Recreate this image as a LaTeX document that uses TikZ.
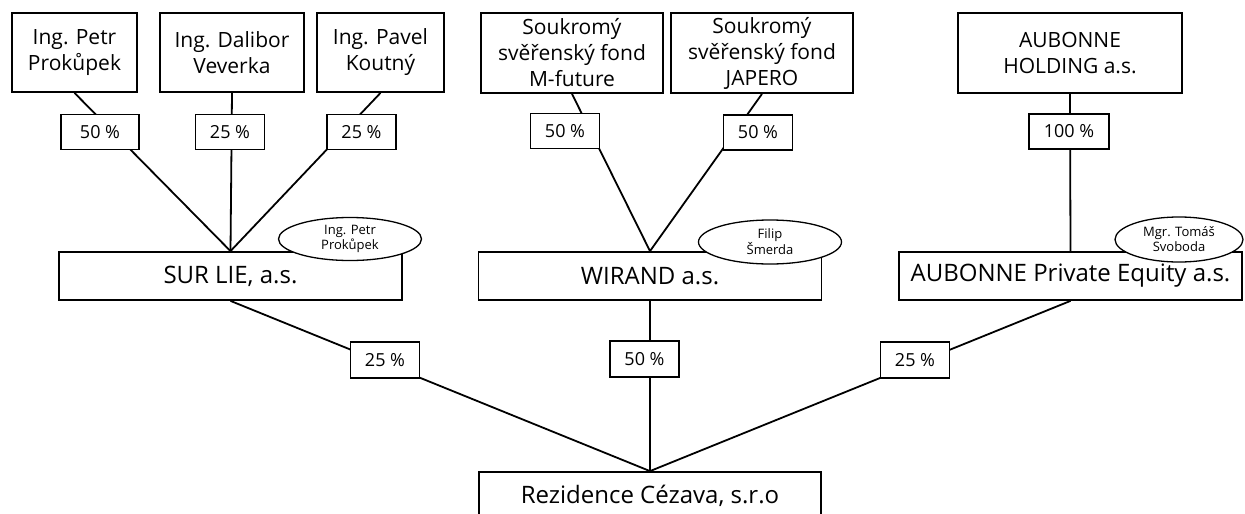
\documentclass[tikz,border=0pt]{standalone}
\usepackage{fontspec}
\setmainfont{Open Sans}
\usetikzlibrary{shapes.geometric}

\begin{document}
\begin{tikzpicture}[x=1pt,y=-1pt,
	owner/.style={shape=rectangle,draw=black,line width=1.8pt,fill=white,align=center,inner sep=0pt,minimum height=79pt,font=\fontsize{21}{26}\selectfont},
	firm/.style={shape=rectangle,draw=black,line width=1.8pt,fill=white,inner sep=0pt,minimum width=343pt,minimum height=48pt,font=\fontsize{24}{28}\selectfont},
	share/.style={shape=rectangle,draw=black,line width=1.3pt,fill=white,inner sep=0pt,minimum width=69pt,minimum height=35pt,font=\fontsize{18}{22}\selectfont},
	boss/.style={shape=ellipse,draw=black,line width=1.3pt,fill=white,inner sep=0pt,align=center,font=\fontsize{13}{15}\selectfont},
	link/.style={draw=black,line width=1.8pt}]
	\useasboundingbox (0,0) rectangle (1245,514);
	\clip (0,0) rectangle (1245,514);
	% owners
	\node[owner,minimum width=125pt] (petr)    at (74.5,52.5) {Ing. Petr\\Prokůpek};
	\node[owner,minimum width=144pt] (dalibor) at (232,52.5)  {Ing. Dalibor\\Veverka};
	\node[owner,minimum width=127pt] (pavel)   at (380.5,52.5) {Ing. Pavel\\Koutný};
	\node[owner,minimum width=182pt,minimum height=80pt] (mfuture) at (572,53) {Soukromý\\svěřenský fond\\M-future};
	\node[owner,minimum width=182pt,minimum height=80pt] (japero)  at (762,53) {Soukromý\\svěřenský fond\\JAPERO};
	\node[owner,minimum width=224pt,minimum height=80pt] (aubhold) at (1070,53) {AUBONNE\\HOLDING a.s.};
	% companies
	\node[firm] (surlie) at (230.5,276) {SUR LIE, a.s.};
	\node[firm] (wirand) at (650,276)   {WIRAND a.s.};
	\node[firm] (aubpe)  at (1070.5,276) {AUBONNE Private Equity a.s.};
	\node[firm,minimum width=342pt] (rezidence) at (650,496) {Rezidence Cézava, s.r.o};
	% lines
	\draw[link] (petr.south) -- (surlie.north);
	\draw[link] (dalibor.south) -- (surlie.north);
	\draw[link] (pavel.south) -- (surlie.north);
	\draw[link] (mfuture.south) -- (wirand.north);
	\draw[link] (japero.south) -- (wirand.north);
	\draw[link] (aubhold.south) -- (aubpe.north);
	\draw[link] (surlie.south) -- (rezidence.north);
	\draw[link] (wirand.south) -- (rezidence.north);
	\draw[link] (aubpe.south) -- (rezidence.north);
	% shares
	\node[share,minimum width=78pt] (sPetr) at (100,132)  {50 \%};
	\node[share] (sDalibor) at (230,132)   {25 \%};
	\node[share] (sPavel)   at (361.5,132) {25 \%};
	\node[share] (sMfuture) at (565,131)   {50 \%};
	\node[share] (sJapero)  at (758,132.5) {50 \%};
	\node[share,minimum width=80pt] (sAubhold) at (1069,131.5) {100 \%};
	\node[share,minimum height=36pt] (sSurlie) at (385,360)   {25 \%};
	\node[share,minimum height=36pt] (sWirand) at (644.5,359) {50 \%};
	\node[share,minimum height=36pt] (sAubpe)  at (915,360)   {25 \%};
	% statutory persons
	\node[boss,minimum width=143pt,minimum height=43pt] (bSurlie) at (350,239)    {Ing. Petr\\Prokůpek};
	\node[boss,minimum width=143pt,minimum height=44pt] (bWirand) at (770,242)    {Filip\\Šmerda};
	\node[boss,minimum width=128pt,minimum height=45pt] (bAubpe)  at (1179,239.5) {Mgr. Tomáš\\Svoboda};
\end{tikzpicture}
\end{document}
